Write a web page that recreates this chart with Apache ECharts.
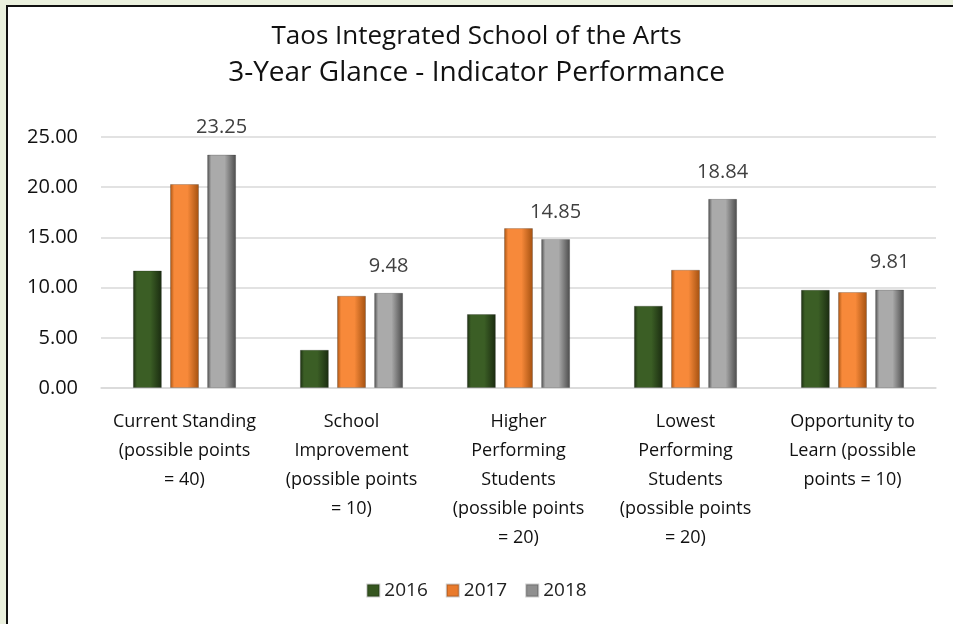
<!DOCTYPE html>
<html>
<head>
<meta charset="utf-8">
<script src="https://cdn.jsdelivr.net/npm/echarts@6/dist/echarts.min.js"></script>
<style>
  html, body { margin: 0; padding: 0; background: #ebf1de; overflow: hidden; }
  #frame {
    position: absolute; left: 6px; top: 5px; width: 947px; height: 619px;
    box-sizing: border-box; background: #fff;
    border-left: 2px solid #111; border-top: 2px solid #111;
  }
  #chart { position: absolute; left: 0; top: 0; width: 953px; height: 624px; }
</style>
</head>
<body>
<div id="frame"></div>
<div id="chart"></div>
<script>
// Values; only the 2018 series carries labels.
const CATEGORIES = [
  "Current Standing\n(possible points\n= 40)",
  "School\nImprovement\n(possible points\n= 10)",
  "Higher\nPerforming\nStudents\n(possible points\n= 20)",
  "Lowest\nPerforming\nStudents\n(possible points\n= 20)",
  "Opportunity to\nLearn (possible\npoints = 10)",
];
const YEARS = ["2016", "2017", "2018"];
const VALUES_2016 = [11.71, 3.81, 7.37, 8.2, 9.78];
const VALUES_2017 = [20.32, 9.19, 15.93, 11.78, 9.56];
const VALUES_2018 = [23.25, 9.48, 14.85, 18.84, 9.81];

const FONT = "'Open Sans', sans-serif";

// Bevelled look: dark edges, lighter middle, like the Excel preset.
function bevel(edge, mid) {
  return {
    type: "linear", x: 0, y: 0, x2: 1, y2: 0,
    colorStops: [
      { offset: 0, color: edge },
      { offset: 0.14, color: mid },
      { offset: 0.6, color: mid },
      { offset: 1, color: edge },
    ],
  };
}
const FILLS = [
  bevel("#1a2b10", "#3b5e25"),
  bevel("#a3500f", "#f7893a"),
  bevel("#4a4a4a", "#aaaaaa"),
];
const SWATCH = ["#35561f", "#e97a2c", "#8f8f8f"];

const seriesData = [VALUES_2016, VALUES_2017, VALUES_2018];

const chart = echarts.init(document.getElementById("chart"));
chart.setOption({
  animation: false,
  backgroundColor: "transparent",
  title: {
    text: "{a|Taos Integrated School of the Arts}\n{b|3-Year Glance - Indicator Performance}",
    left: "center",
    top: 13,
    textStyle: {
      fontWeight: "normal",
      rich: {
        a: { fontFamily: FONT, fontSize: 26, fontWeight: "normal", color: "#111", lineHeight: 37 },
        b: { fontFamily: FONT, fontSize: 28, fontWeight: "normal", color: "#111", lineHeight: 37 },
      },
    },
  },
  legend: {
    bottom: 19,
    left: "center",
    itemWidth: 12,
    itemHeight: 12,
    itemGap: 18,
    icon: "rect",
    textStyle: { fontFamily: FONT, fontSize: 19, color: "#222" },
    data: YEARS.map((y, i) => ({ name: y, itemStyle: { color: SWATCH[i] } })),
  },
  grid: { left: 101, right: 17, top: 137, height: 251 },
  xAxis: {
    type: "category",
    data: CATEGORIES,
    axisLine: { lineStyle: { color: "#d9d9d9", width: 1.5 } },
    axisTick: { show: false },
    axisLabel: {
      interval: 0,
      margin: 19,
      fontFamily: FONT, fontSize: 18, color: "#111", lineHeight: 29, align: "center",
    },
  },
  yAxis: {
    type: "value",
    min: 0,
    max: 25,
    interval: 5,
    axisLine: { show: false },
    axisTick: { show: false },
    splitLine: { lineStyle: { color: "#d9d9d9", width: 1.5 } },
    axisLabel: {
      margin: 23,
      fontFamily: FONT, fontSize: 20, color: "#111",
      formatter: (v) => v.toFixed(2),
    },
  },
  series: YEARS.map((y, i) => ({
    name: y,
    type: "bar",
    data: seriesData[i],
    barWidth: 29,
    barGap: "28%",
    itemStyle: { color: FILLS[i], borderColor: "rgba(0,0,0,0.2)", borderWidth: 1 },
    label: i === 2 ? {
      show: true,
      position: "top",
      distance: 17,
      formatter: (p) => p.value.toFixed(2),
      fontFamily: FONT, fontSize: 20, color: "#404040",
    } : { show: false },
  })),
});
</script>
</body>
</html>
